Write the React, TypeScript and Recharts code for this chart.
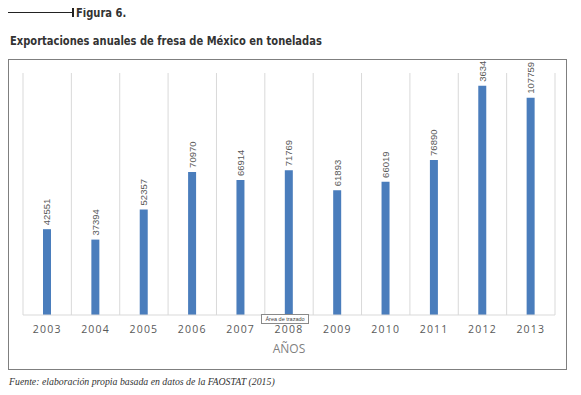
import React from 'react';
import { BarChart, Bar, XAxis, YAxis, CartesianGrid, LabelList } from 'recharts';

// exportaciones anuales de fresa (toneladas), FAOSTAT
const years = ['2003', '2004', '2005', '2006', '2007', '2008', '2009', '2010', '2011', '2012', '2013'];
const exportsTon = [42551, 37394, 52357, 70970, 66914, 71769, 61893, 66019, 76890, 113634, 107759];
// etiquetas tal como se ven en la figura (la de 2012 sale recortada)
const valueLabels = ['42551', '37394', '52357', '70970', '66914', '71769', '61893', '66019', '76890', '3634', '107759'];
const yDomain = [0, 120000];

const data = years.map((year, i) => ({ year, value: exportsTon[i], label: valueLabels[i] }));

const BAR_COLOR = '#4a7dbc';
const GRID_COLOR = '#d9d9d9';
const TEXT_GRAY = '#595959';

const CHART_W = 558;
const CHART_H = 310;

// rotated value label above each bar
const ValueLabel = (props: any) => {
  const { x, y, width, value } = props;
  const cx = Number(x) + Number(width) / 2;
  const cy = Number(y) - 4;
  return (
    <text
      x={cx}
      y={cy}
      transform={`rotate(-90, ${cx}, ${cy})`}
      textAnchor="start"
      dominantBaseline="central"
      fill={TEXT_GRAY}
      fontSize={9.5}
      fontFamily="'Liberation Sans', Arial, sans-serif"
    >
      {value}
    </text>
  );
};

const headStyle: React.CSSProperties = {
  position: 'absolute',
  fontFamily: "'DejaVu Sans Condensed', 'DejaVu Sans', sans-serif",
  fontWeight: 700,
  fontSize: 13,
  color: '#333',
  lineHeight: '18px',
  whiteSpace: 'nowrap',
  transform: 'scaleX(0.85)',
  transformOrigin: 'left center',
};

export default function App() {
  return (
    <div style={{ position: 'relative', margin: -8, width: 581, height: 395, background: '#fff', overflow: 'hidden' }}>
      {/* encabezado */}
      <div style={{ position: 'absolute', left: 8, top: 12, width: 64, height: 1, background: '#222' }} />
      <div style={{ position: 'absolute', left: 72, top: 7, width: 1.5, height: 10, background: '#222' }} />
      <div style={{ ...headStyle, left: 76, top: 4 }}>Figura 6.</div>
      <div style={{ ...headStyle, left: 10, top: 32 }}>Exportaciones anuales de fresa de México en toneladas</div>

      {/* marco del gráfico */}
      <div
        style={{
          position: 'absolute',
          left: 8,
          top: 59,
          width: CHART_W + 1,
          height: CHART_H + 1,
          border: '1px solid #7f7f7f',
          boxSizing: 'border-box',
        }}
      />
      <div style={{ position: 'absolute', left: 8, top: 59 }}>
        <BarChart
          width={CHART_W}
          height={CHART_H}
          data={data}
          margin={{ top: 14, right: 11, left: 15, bottom: 0 }}
          barCategoryGap={0}
        >
          <CartesianGrid
            horizontal={false}
            stroke={GRID_COLOR}
            strokeWidth={1}
            verticalCoordinatesGenerator={({ offset }: any) =>
              Array.from({ length: years.length + 1 }, (_, i) => offset.left + (i * offset.width) / years.length)
            }
          />
          <XAxis
            dataKey="year"
            height={54}
            axisLine={{ stroke: GRID_COLOR }}
            tickLine={false}
            tickMargin={5}
            interval={0}
            tick={{ fill: TEXT_GRAY, fontSize: 10.5, fontFamily: "'Open Sans', sans-serif", letterSpacing: 1.2 }}
            label={{
              value: 'AÑOS',
              position: 'insideBottom',
              offset: 16,
              fill: '#7f7f7f',
              fontSize: 12,
              fontFamily: "'Open Sans', sans-serif",
            }}
          />
          <YAxis hide domain={yDomain} />
          <Bar dataKey="value" fill={BAR_COLOR} barSize={8} isAnimationActive={false}>
            <LabelList dataKey="label" content={ValueLabel} />
          </Bar>
        </BarChart>
      </div>

      {/* tooltip de Excel */}
      <div
        style={{
          position: 'absolute',
          left: 261,
          top: 314,
          width: 48,
          height: 10,
          boxSizing: 'border-box',
          border: '1px solid #8a8a8a',
          background: '#fff',
          fontFamily: "'Liberation Sans', Arial, sans-serif",
          fontSize: 5.5,
          lineHeight: '8px',
          color: '#444',
          textAlign: 'center',
          whiteSpace: 'nowrap',
        }}
      >
        Área de trazado
      </div>

      {/* fuente */}
      <div
        style={{
          position: 'absolute',
          left: 9,
          top: 375,
          fontFamily: "'Liberation Serif', 'DejaVu Serif', serif",
          fontStyle: 'italic',
          fontSize: 9.8,
          color: '#333',
          lineHeight: '14px',
          whiteSpace: 'nowrap',
        }}
      >
        Fuente: elaboración propia basada en datos de la FAOSTAT (2015)
      </div>
    </div>
  );
}
